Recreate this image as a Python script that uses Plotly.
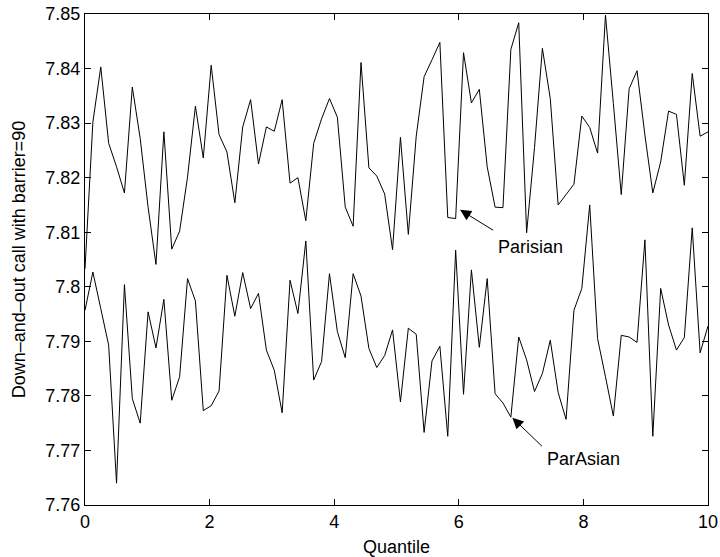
import numpy as np
import plotly.graph_objects as go

# Quantile grid (80 equally spaced points on [0, 10])
quantile = np.linspace(0, 10, 80)

parisian = [
    7.8033, 7.8302, 7.8403, 7.8263, 7.8220, 7.8172, 7.8366, 7.8272, 7.8146, 7.8041,
    7.8284, 7.8069, 7.8102, 7.8201, 7.8331, 7.8236, 7.8406, 7.8279, 7.8247, 7.8154,
    7.8293, 7.8343, 7.8225, 7.8293, 7.8285, 7.8343, 7.8190, 7.8200, 7.8121, 7.8263,
    7.8308, 7.8345, 7.8311, 7.8146, 7.8111, 7.8411, 7.8218, 7.8203, 7.8170, 7.8068,
    7.8274, 7.8096, 7.8276, 7.8385, 7.8416, 7.8448, 7.8127, 7.8125, 7.8429, 7.8337,
    7.8362, 7.8220, 7.8146, 7.8145, 7.8435, 7.8484, 7.8099, 7.8255, 7.8437, 7.8345,
    7.8150, 7.8169, 7.8188, 7.8313, 7.8292, 7.8245, 7.8498, 7.8336, 7.8169, 7.8363,
    7.8396, 7.8278, 7.8172, 7.8229, 7.8322, 7.8316, 7.8186, 7.8391, 7.8276, 7.8284,
]

parasian = [
    7.7957, 7.8027, 7.7960, 7.7893, 7.7640, 7.8004, 7.7795, 7.7750, 7.7954, 7.7888,
    7.7977, 7.7792, 7.7835, 7.8015, 7.7974, 7.7773, 7.7782, 7.7809, 7.8021, 7.7946,
    7.8026, 7.7960, 7.7988, 7.7884, 7.7847, 7.7769, 7.8012, 7.7951, 7.8084, 7.7829,
    7.7863, 7.8024, 7.7918, 7.7870, 7.8024, 7.7983, 7.7887, 7.7852, 7.7874, 7.7921,
    7.7789, 7.7924, 7.7913, 7.7733, 7.7864, 7.7891, 7.7726, 7.8067, 7.7803, 7.8031,
    7.7889, 7.8015, 7.7804, 7.7787, 7.7761, 7.7908, 7.7866, 7.7808, 7.7841, 7.7902,
    7.7806, 7.7757, 7.7957, 7.7997, 7.8150, 7.7905, 7.7835, 7.7763, 7.7911, 7.7908,
    7.7898, 7.8086, 7.7726, 7.7997, 7.7930, 7.7884, 7.7907, 7.8108, 7.7879, 7.7928,
]

x_ticks = [0, 2, 4, 6, 8, 10]
y_ticks = [7.76, 7.77, 7.78, 7.79, 7.80, 7.81, 7.82, 7.83, 7.84, 7.85]
y_ticktext = ["7.76", "7.77", "7.78", "7.79", "7.8", "7.81", "7.82", "7.83", "7.84", "7.85"]

FONT = "Liberation Sans, Arial, Helvetica, sans-serif"
FS = 18

fig = go.Figure()
fig.add_trace(go.Scatter(x=quantile, y=parisian, mode="lines",
                         line=dict(color="black", width=1), name="Parisian"))
fig.add_trace(go.Scatter(x=quantile, y=parasian, mode="lines",
                         line=dict(color="black", width=1), name="ParAsian"))

axis_common = dict(
    showline=True, linecolor="black", linewidth=1, mirror="allticks",
    ticks="inside", ticklen=6, tickcolor="black", tickwidth=1,
    showgrid=False, zeroline=False, automargin=False,
    tickfont=dict(family=FONT, size=FS, color="black"),
)

fig.update_xaxes(range=[0, 10], tickvals=x_ticks,
                 title=dict(text="Quantile", font=dict(family=FONT, size=FS, color="black"), standoff=9),
                 **axis_common)
fig.update_yaxes(range=[7.76, 7.85], tickvals=y_ticks, ticktext=y_ticktext,
                 title=dict(text="Down–and–out call with barrier=90",
                            font=dict(family=FONT, size=FS, color="black"), standoff=15),
                 **axis_common)

# arrows pointing at each curve, with their labels
arrows = [
    dict(tip=(6.02, 7.8141), tail=(6.575, 7.8102)),
    dict(tip=(6.86, 7.7760), tail=(7.36, 7.7705)),
]
for a in arrows:
    fig.add_annotation(x=a["tip"][0], y=a["tip"][1], ax=a["tail"][0], ay=a["tail"][1],
                       xref="x", yref="y", axref="x", ayref="y", text="",
                       showarrow=True, arrowhead=2, arrowsize=2.2, arrowwidth=1,
                       arrowcolor="black", standoff=0, startstandoff=0)

labels = [("Parisian", 6.59, 7.8073), ("ParAsian", 7.39, 7.7684)]
for txt, lx, ly in labels:
    fig.add_annotation(x=lx, y=ly, xref="x", yref="y", text=txt, showarrow=False,
                       xanchor="left", yanchor="middle",
                       font=dict(family=FONT, size=FS, color="black"))

fig.update_layout(
    width=720, height=557,
    margin=dict(l=85, r=12, t=14, b=52),
    paper_bgcolor="white", plot_bgcolor="white",
    showlegend=False,
    font=dict(family=FONT, size=FS, color="black"),
)

fig.write_html("out.html")
